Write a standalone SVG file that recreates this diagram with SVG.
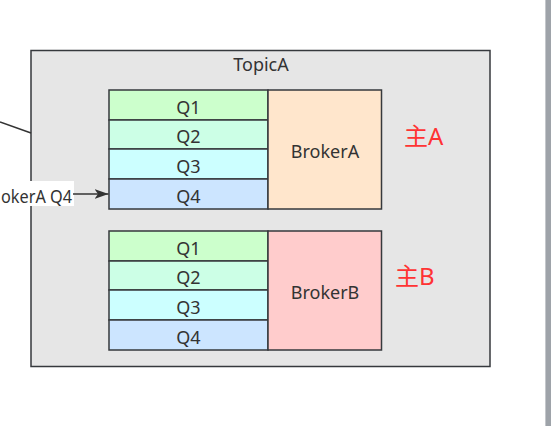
<svg xmlns="http://www.w3.org/2000/svg" width="551" height="426" viewBox="0 0 551 426">
<style>
.box{stroke:#36393d;stroke-width:1.5}
.t{font-family:"Noto Sans","Noto Sans CJK SC",sans-serif;font-size:18px;fill:#333;text-anchor:middle}
.red{font-family:"Noto Sans","Noto Sans CJK SC",sans-serif;font-size:24px;fill:#ff3333}
.q1{fill:#ccffcc}.q2{fill:#ccffe6}.q3{fill:#ccffff}.q4{fill:#cce5ff}
</style>
<defs>
<marker id="arr" viewBox="0 0 14 10" refX="14" refY="5" markerWidth="14" markerHeight="10" markerUnits="userSpaceOnUse" orient="auto">
<path d="M0,0 L14,5 L0,10 L3.5,5 Z" fill="#333"/>
</marker>
</defs>
<rect x="0" y="0" width="551" height="426" fill="#ffffff"/>
<rect x="545" y="0" width="6" height="426" fill="#9ea3a9"/>
<rect x="545" y="0" width="1" height="426" fill="#c4c7cb"/>
<g id="topicA">
<rect class="box" x="31" y="50.5" width="459" height="316" fill="#e6e6e6" stroke="#4a4a4a"/>
<text class="t" x="261" y="71">TopicA</text>
</g>
<g id="groupA">
<rect class="box q1" x="109" y="90" width="159" height="30"/>
<text class="t" x="188.5" y="113.5">Q1</text>
<rect class="box q2" x="109" y="120" width="159" height="29"/>
<text class="t" x="188.5" y="143">Q2</text>
<rect class="box q3" x="109" y="149" width="159" height="30"/>
<text class="t" x="188.5" y="172.5">Q3</text>
<rect class="box q4" x="109" y="179" width="159" height="30"/>
<text class="t" x="188.5" y="202.5">Q4</text>
<rect class="box" x="268" y="90" width="113.5" height="119" fill="#ffe6cc"/>
<text class="t" x="325" y="158">BrokerA</text>
</g>
<g id="groupB">
<rect class="box q1" x="109" y="231" width="159" height="30"/>
<text class="t" x="188.5" y="254.5">Q1</text>
<rect class="box q2" x="109" y="261" width="159" height="29"/>
<text class="t" x="188.5" y="284">Q2</text>
<rect class="box q3" x="109" y="290" width="159" height="30"/>
<text class="t" x="188.5" y="313.5">Q3</text>
<rect class="box q4" x="109" y="320" width="159" height="30"/>
<text class="t" x="188.5" y="343.5">Q4</text>
<rect class="box" x="268" y="231" width="113.5" height="119" fill="#ffcccc"/>
<text class="t" x="325" y="299">BrokerB</text>
</g>
<g id="labelA"><text class="red" x="404" y="145">主A</text></g>
<g id="labelB"><text class="red" x="395" y="285">主B</text></g>
<g id="connectors">
<line x1="0" y1="122" x2="31" y2="133" stroke="#333" stroke-width="1.5"/>
<rect x="0" y="181" width="74" height="25" fill="#ffffff"/>
<text class="t" x="1" y="203" style="text-anchor:start" textLength="71" lengthAdjust="spacingAndGlyphs">okerA Q4</text>
<line x1="73" y1="194" x2="108.5" y2="194" stroke="#333" stroke-width="1.5" marker-end="url(#arr)"/>
</g>
</svg>
